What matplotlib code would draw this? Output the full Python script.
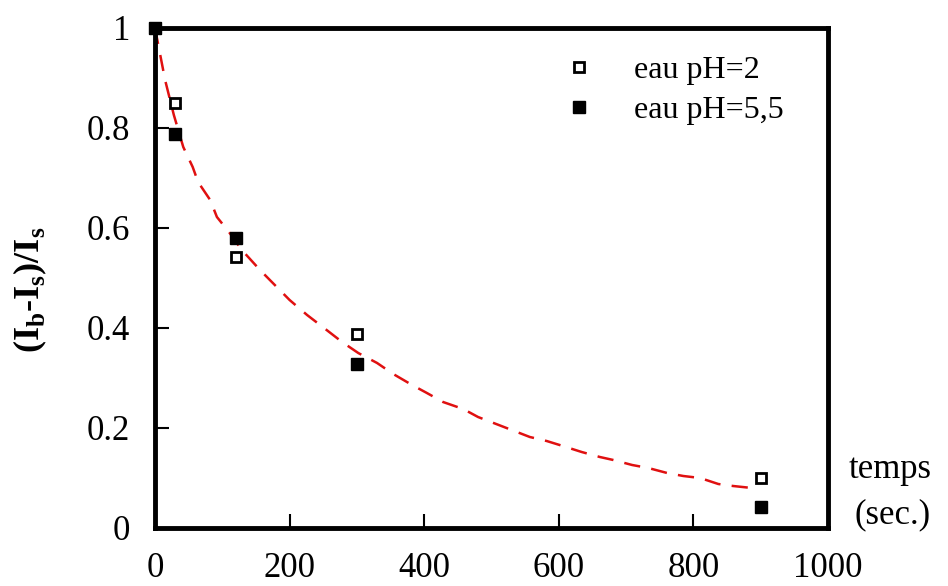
import matplotlib
matplotlib.use("Agg")
import matplotlib.pyplot as plt

# Data
time_s = [0, 30, 120, 300, 900]
ph2_vals = [1.0, 0.85, 0.542, 0.388, 0.10]
ph55_vals = [1.0, 0.788, 0.58, 0.328, 0.042]

fit_x = [0, 15, 28, 42, 56, 64, 82, 92, 111, 129, 156, 200, 226, 255, 278, 302,
         330, 354, 382, 404, 428, 458, 480, 557, 582, 606, 634, 661, 681, 709,
         733, 761, 785, 810, 837, 859, 887]
fit_y = [1.0, 0.896, 0.826, 0.762, 0.722, 0.692, 0.656, 0.622, 0.59, 0.556,
         0.516, 0.456, 0.426, 0.396, 0.372, 0.35, 0.33, 0.308, 0.286, 0.27,
         0.252, 0.238, 0.222, 0.182, 0.174, 0.164, 0.152, 0.142, 0.136, 0.126,
         0.12, 0.11, 0.104, 0.10, 0.088, 0.084, 0.08]

xticks = [0, 200, 400, 600, 800, 1000]
yticks = [0, 0.2, 0.4, 0.6, 0.8, 1.0]
ytick_labels = ["0", "0.2", "0.4", "0.6", "0.8", "1"]

legend_labels = ["eau pH=2", "eau pH=5,5"]

plt.rcParams['font.family'] = ['Liberation Serif', 'DejaVu Serif']
plt.rcParams['mathtext.fontset'] = 'custom'
plt.rcParams['mathtext.rm'] = 'Liberation Serif'
plt.rcParams['mathtext.bf'] = 'Liberation Serif:bold'

fig = plt.figure(figsize=(9.48, 5.86), dpi=100)
ax = fig.add_axes([155/948, 1-528/586, (828-155)/948, (528-28)/586])

ax.plot(fit_x, fit_y, color='#e01010', lw=1.8, dashes=(6.5, 4.5), zorder=2)
h1, = ax.plot(time_s, ph2_vals, 's', ms=7.5, mfc='white', mec='black', mew=2,
              zorder=4, clip_on=False, label=legend_labels[0])
h2, = ax.plot(time_s, ph55_vals, 's', ms=8.5, mfc='black', mec='black', mew=1,
              zorder=5, clip_on=False, label=legend_labels[1])

ax.set_xlim(0, 1000)
ax.set_ylim(0, 1)
ax.set_xticks(xticks)
ax.set_xticklabels([str(v) for v in xticks])
ax.set_yticks(yticks)
ax.set_yticklabels(ytick_labels)

for s in ax.spines.values():
    s.set_linewidth(3.5)

ax.tick_params(axis='both', direction='in', length=10, width=1.5,
               labelsize=25, top=False, right=False)
ax.tick_params(axis='y', pad=18)
ax.tick_params(axis='x', pad=17)

fig.text(30/948, 1-290/586,
         "(I$_{\\mathbf{b}}$-I$_{\\mathbf{s}}$)/I$_{\\mathbf{s}}$",
         rotation=90, ha='center', va='center', fontsize=26, fontweight='bold')

fig.text(890/948, 1-470/586, "temps", ha='center', va='center', fontsize=25)
fig.text(893/948, 1-515/586, "(sec.)", ha='center', va='center', fontsize=25)

ax.legend(handles=[h1, h2], loc='upper left', bbox_to_anchor=(0.588, 0.97),
          frameon=False, fontsize=23, handlelength=1.0, handletextpad=1.2,
          labelspacing=0.33, borderaxespad=0)

fig.savefig("out.png", dpi=100)
